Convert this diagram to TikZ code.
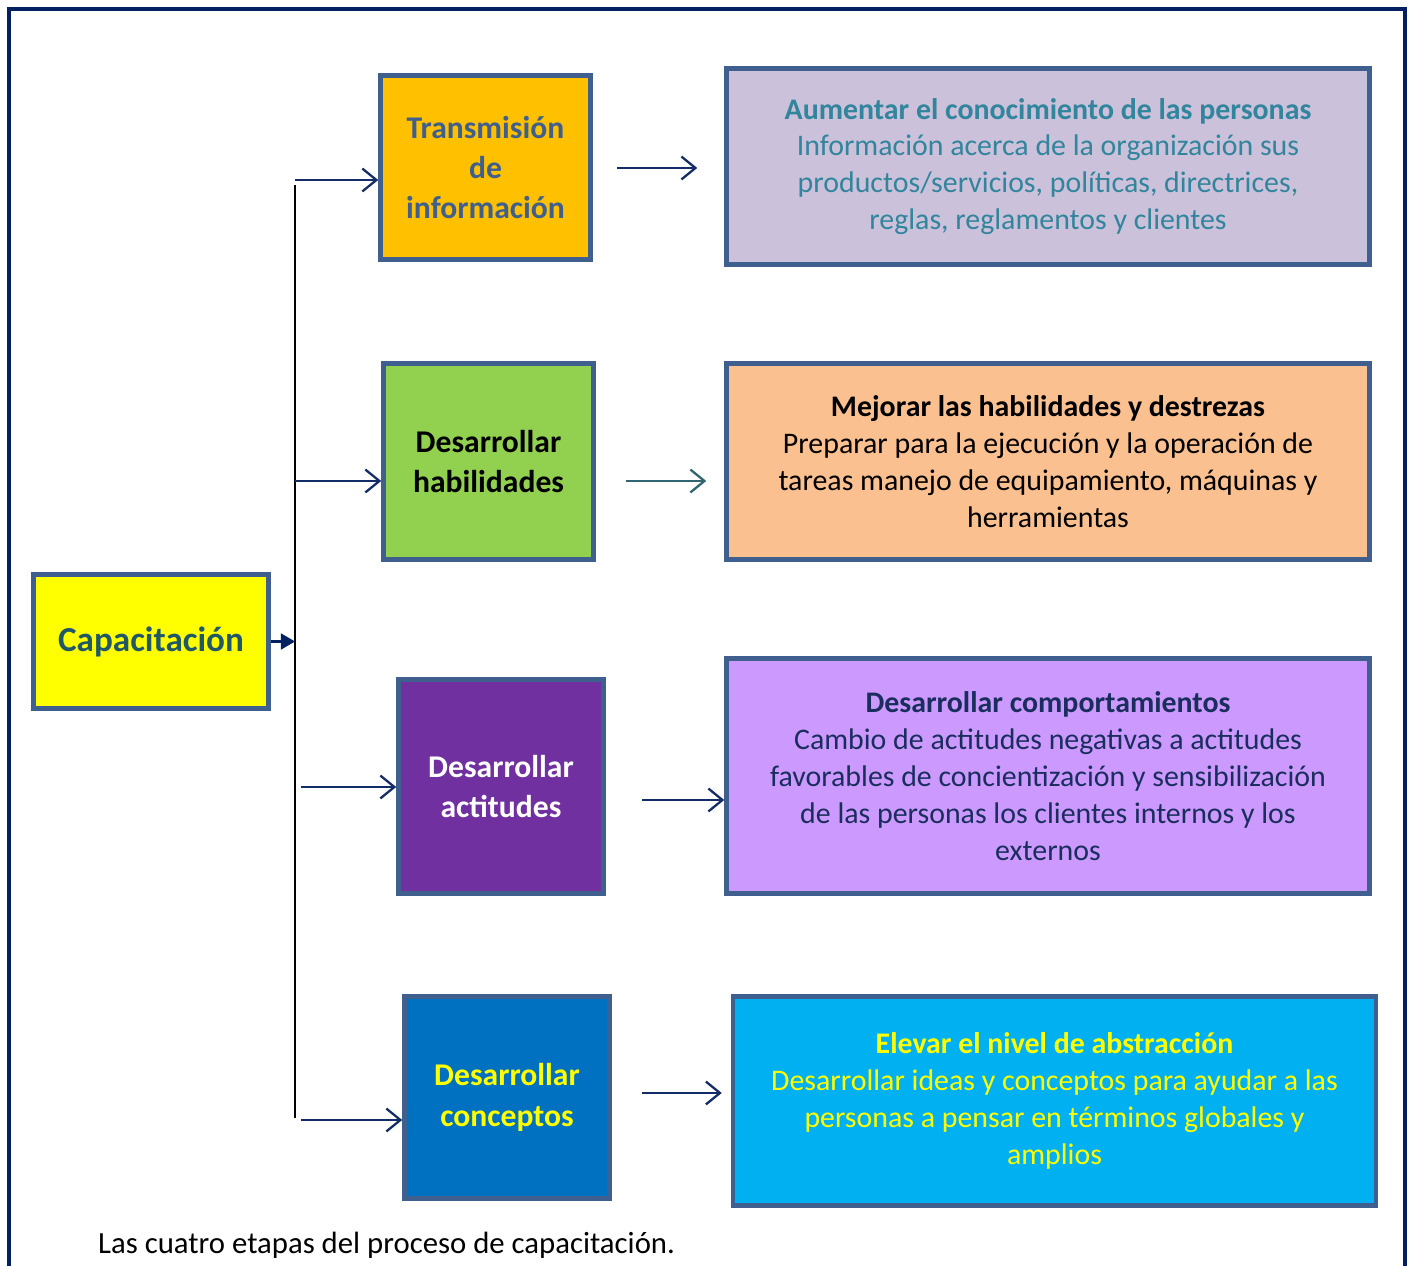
\documentclass[tikz,border=0pt]{standalone}
\usepackage{fontspec}
\setmainfont{Carlito}
\usepackage{tikz}
\usetikzlibrary{arrows.meta,positioning,calc}

\definecolor{marco}{HTML}{002060}
\definecolor{borde}{HTML}{3F5F8E}
\definecolor{flechacol}{HTML}{142C68}
\definecolor{flechateal}{HTML}{31656F}
\definecolor{amarillo}{HTML}{FFFF00}
\definecolor{naranja}{HTML}{FFC000}
\definecolor{verde}{HTML}{92D050}
\definecolor{morado}{HTML}{7030A0}
\definecolor{azul}{HTML}{0070C0}
\definecolor{lila}{HTML}{CCC1DA}
\definecolor{salmon}{HTML}{FAC090}
\definecolor{violeta}{HTML}{CC99FF}
\definecolor{celeste}{HTML}{00B0F0}
\definecolor{pizarra}{HTML}{215868}
\definecolor{turquesa}{HTML}{31859C}
\definecolor{marino}{HTML}{1A2E5E}

\begin{document}
\begin{tikzpicture}[x=0.02cm,y=-0.02cm,
	caja/.style={draw=borde,line width=2.6pt,align=center,inner sep=0pt,
		font=\bfseries\fontsize{18}{23}\selectfont},
	meta/.style={draw=borde,line width=2.6pt,align=center,inner sep=0pt,
		minimum width=12.86cm,font=\fontsize{17}{21}\selectfont},
	flecha/.style={flechacol,line width=1.3pt,-{Straight Barb[length=8pt,width=13pt]}}]
				\useasboundingbox (0,0) rectangle (1411,1266);
				
				\draw [marco, line width=2.8pt] (9,1266) -- (9,9) -- (1405,9) -- (1405,1266);
				
				% left column
				\node [caja, fill=amarillo, text=pizarra, minimum width=4.7cm, minimum height=2.68cm,
					font=\bfseries\fontsize{20}{24}\selectfont] (cap) at (151,641.5) {Capacitación};
				
				\node [caja, fill=naranja, text=borde, minimum width=4.2cm, minimum height=3.68cm] (b1) at (485.5,167.5) {Transmisión\\de\\información};
				\node [caja, fill=verde, text=black, minimum width=4.2cm, minimum height=3.92cm] (b2) at (488.5,461.5) {Desarrollar\\habilidades};
				\node [caja, fill=morado, text=white, minimum width=4.1cm, minimum height=4.28cm] (b3) at (501,786.5) {Desarrollar\\actitudes};
				\node [caja, fill=azul, text=amarillo, minimum width=4.1cm, minimum height=4.04cm] (b4) at (507,1097.5) {Desarrollar\\conceptos};
				
				% right column
				\node [meta, fill=lila, text=turquesa, minimum height=3.92cm] (r1) at (1048,166.5)
					{{\bfseries Aumentar el conocimiento de las personas}\\Información acerca de la organización sus\\productos/servicios, políticas, directrices,\\reglas, reglamentos y clientes};
				\node [meta, fill=salmon, text=black, minimum height=3.92cm] (r2) at (1048,461.5)
					{{\bfseries Mejorar las habilidades y destrezas}\\Preparar para la ejecución y la operación de\\tareas manejo de equipamiento, máquinas y\\herramientas};
				\node [meta, fill=violeta, text=marino, minimum height=4.7cm] (r3) at (1048,776)
					{{\bfseries Desarrollar comportamientos}\\Cambio de actitudes negativas a actitudes\\favorables de concientización y sensibilización\\de las personas los clientes internos y los\\externos};
				\node [meta, fill=celeste, text=amarillo, minimum height=4.18cm] (r4) at (1054.5,1101)
					{{\bfseries Elevar el nivel de abstracción}\\Desarrollar ideas y conceptos para ayudar a las\\personas a pensar en términos globales y\\amplios};
				
				% trunk
				\coordinate (tt) at (295,185);
				\coordinate (tb) at (295,1118);
				\draw [black, line width=1pt] (tt) -- (tb);
				\draw [marco, line width=1.3pt, -{Triangle[length=8pt,width=9pt]}] (cap.east) -- (cap.east -| tt);
				
				\coordinate (t1) at (295,180);
				\coordinate (t2) at (295,481);
				\coordinate (t3) at (301,787);
				\coordinate (t4) at (301,1120);
				\draw [flecha] (t1) -- (t1 -| b1.west);
				\draw [flecha] (t2) -- (t2 -| b2.west);
				\draw [flecha] (t3) -- (t3 -| b3.west);
				\draw [flecha] (t4) -- (t4 -| b4.west);
				
				\draw [flecha, shorten <=0.48cm, shorten >=0.54cm] (b1.east |- 0,168) -- (r1.west |- 0,168);
				\draw [flecha, flechateal, shorten <=0.6cm, shorten >=0.36cm] (b2.east |- t2) -- (r2.west |- t2);
				\draw [flecha, shorten <=0.72cm] (b3.east |- 0,800) -- (r3.west |- 0,800);
				\draw [flecha, shorten <=0.6cm, shorten >=0.18cm] (b4.east |- 0,1093) -- (r4.west |- 0,1093);
				
				\node [anchor=west, font=\fontsize{17.5}{21}\selectfont] (pie) at (92,1245) {Las cuatro etapas del proceso de capacitación.};
\end{tikzpicture}
\end{document}
